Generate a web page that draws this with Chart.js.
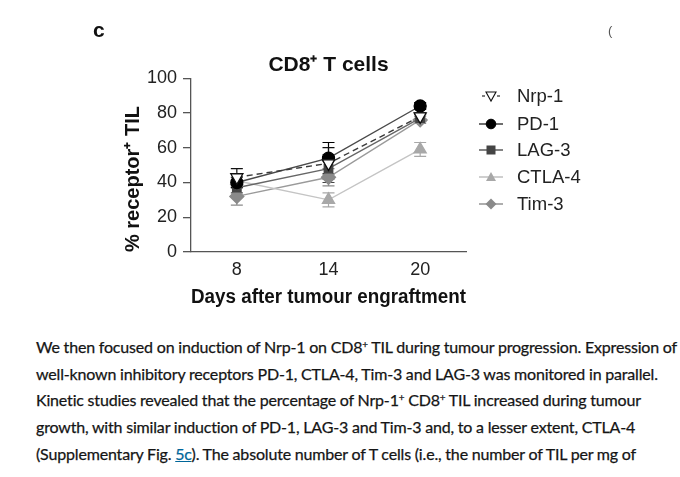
<!DOCTYPE html>
<html>
<head>
<meta charset="utf-8">
<script src="https://cdn.jsdelivr.net/npm/chart.js@4.4.1/dist/chart.umd.min.js"></script>
<style>
  html, body { margin: 0; padding: 0; background: #fff; }
  #page { position: relative; width: 680px; height: 477px; overflow: hidden; font-family: "Liberation Sans", Arial, sans-serif; }
  #chartBox { position: absolute; left: 0; top: 0; width: 680px; height: 310px; }
  .panel { position: absolute; left: 93px; top: 18px; font: bold 21px "Liberation Sans", Arial, sans-serif; color: #111; }
  .edge { position: absolute; left: 608px; top: 23px; font: 13px "Liberation Sans", Arial, sans-serif; color: #555; }
  #legend { position: absolute; left: 478px; top: 84px; }
  .lg { position: absolute; left: 0; height: 24px; white-space: nowrap; }
  .lg svg { position: absolute; left: 0; top: 2px; }
  .lg span { position: absolute; left: 39px; top: 0; font: 18.5px "Liberation Sans", Arial, sans-serif; color: #222; line-height: 24px; }
  #text { position: absolute; left: 36px; top: 334px; font: 16px Lato, "Open Sans", sans-serif; color: #151515; line-height: 26.7px; letter-spacing: -0.17px; word-spacing: -0.1px; white-space: nowrap; -webkit-text-stroke: 0.25px #151515; }
  #text a { color: #069; text-decoration: underline; -webkit-text-stroke: 0.25px #069; }
  sup { font-size: 62%; line-height: 0; vertical-align: 0.55em; }
</style>
</head>
<body>
<div id="page">
  <div id="chartBox"><canvas id="receptorChart"></canvas></div>
  <div class="panel">c</div>
  <div class="edge">(</div>
  <div id="legend"></div>
  <div id="text">
    We then focused on induction of Nrp-1 on CD8<sup>+</sup> TIL during tumour progression. Expression of<br>
    well-known inhibitory receptors PD-1, CTLA-4, Tim-3 and LAG-3 was monitored in parallel.<br>
    Kinetic studies revealed that the percentage of Nrp-1<sup>+</sup> CD8<sup>+</sup> TIL increased during tumour<br>
    growth, with similar induction of PD-1, LAG-3 and Tim-3 and, to a lesser extent, CTLA-4<br>
    (Supplementary Fig. <a href="#">5c</a>). The absolute number of T cells (i.e., the number of TIL per mg of
  </div>
</div>
<script>
/* ============================================================
   CD8+ TIL receptor kinetics
   ============================================================ */

const days = [8, 14, 20];
const yTicks = [0, 20, 40, 60, 80, 100];

const seriesNames = ['Nrp-1', 'PD-1', 'LAG-3', 'CTLA-4', 'Tim-3'];

const nrp1 = [43, 51, 78];
const pd1 = [40, 54, 84];
const lag3 = [37, 48, 77];
const ctla4 = [41, 30, 59];
const tim3 = [32, 43, 76];

const nrp1Err = [5, 9, 2];
const pd1Err = [3, 9, 2];
const lag3Err = [3, 8, 2];
const ctla4Err = [4, 4, 4];
const tim3Err = [5, 5, 2];

const seriesValues = [nrp1, pd1, lag3, ctla4, tim3];
const seriesErrors = [nrp1Err, pd1Err, lag3Err, ctla4Err, tim3Err];

// look of each series: line, marker, fill
const looks = [
  { line: '#3a3a3a', dash: [6, 4], marker: 'triangle', rot: 180, fill: '#ffffff', edge: '#111', r: 7 },
  { line: '#4a4a4a', dash: [], marker: 'circle', rot: 0, fill: '#000000', edge: '#000', r: 6 },
  { line: '#666666', dash: [], marker: 'rect', rot: 0, fill: '#444444', edge: '#444', r: 6 },
  { line: '#c4c4c4', dash: [], marker: 'triangle', rot: 0, fill: '#a8a8a8', edge: '#a8a8a8', r: 7 },
  { line: '#9a9a9a', dash: [], marker: 'rectRot', rot: 0, fill: '#8a8a8a', edge: '#8a8a8a', r: 7 }
];

const datasets = seriesNames.map((name, i) => ({
  label: name,
  data: days.map((d, j) => ({ x: d, y: seriesValues[i][j] })),
  errors: seriesErrors[i],
  borderColor: looks[i].line,
  borderWidth: 1.4,
  borderDash: looks[i].dash,
  pointStyle: looks[i].marker,
  rotation: looks[i].rot,
  pointRadius: looks[i].r,
  pointBackgroundColor: looks[i].fill,
  pointBorderColor: looks[i].edge,
  pointBorderWidth: 1.3,
  tension: 0,
  fill: false
}));

const errorBars = {
  id: 'errorBars',
  beforeDatasetsDraw(chart) {
    const { ctx, scales: { x, y } } = chart;
    for (let i = chart.data.datasets.length - 1; i >= 0; i--) {
      const ds = chart.data.datasets[i];
      ctx.save();
      ctx.strokeStyle = ds.pointBorderColor === '#ffffff' ? '#333' : ds.pointBorderColor;
      ctx.lineWidth = 1.2;
      ctx.setLineDash([]);
      ds.data.forEach((p, j) => {
        const e = ds.errors[j];
        const px = x.getPixelForValue(p.x);
        const top = y.getPixelForValue(p.y + e);
        const bot = y.getPixelForValue(p.y - e);
        ctx.beginPath();
        ctx.moveTo(px, top); ctx.lineTo(px, bot);
        ctx.moveTo(px - 6, top); ctx.lineTo(px + 6, top);
        ctx.moveTo(px - 6, bot); ctx.lineTo(px + 6, bot);
        ctx.stroke();
      });
      ctx.restore();
    }
  }
};

new Chart(document.getElementById('receptorChart').getContext('2d'), {
  type: 'line',
  data: { datasets },
  plugins: [errorBars],
  options: {
    responsive: true,
    maintainAspectRatio: false,
    animation: false,
    layout: { padding: { left: 110, right: 214, top: 0, bottom: 0 } },
    plugins: {
      legend: { display: false },
      tooltip: { enabled: false },
      title: {
        display: true,
        fullSize: false,
        text: 'CD8⁺ T cells',
        color: '#111',
        font: { family: '"Liberation Sans", Arial, sans-serif', size: 21, weight: 'bold', lineHeight: 1.2 },
        padding: { top: 53, bottom: 0 }
      }
    },
    scales: {
      x: {
        type: 'linear',
        min: 5,
        max: 23,
        afterBuildTicks: s => { s.ticks = days.map(v => ({ value: v })); },
        afterFit: s => { s.height = 58; },
        grid: { display: false, drawTicks: false },
        border: { display: true, color: '#555', width: 1.3 },
        ticks: { color: '#222', padding: 7, font: { family: '"Liberation Sans", Arial, sans-serif', size: 18 } },
        title: {
          display: true,
          text: 'Days after tumour engraftment',
          color: '#111',
          font: { family: '"Liberation Sans", Arial, sans-serif', size: 20, weight: 'bold', lineHeight: 1.2 },
          padding: { top: 0, bottom: 1 }
        }
      },
      y: {
        min: 0,
        max: 100,
        afterBuildTicks: s => { s.ticks = yTicks.map(v => ({ value: v })); },
        afterFit: s => { s.width = 81; },
        grid: { display: true, drawOnChartArea: false, drawTicks: true, tickLength: 8, color: '#555', lineWidth: 1.3 },
        border: { display: true, color: '#555', width: 1.3 },
        ticks: { color: '#222', padding: 6, font: { family: '"Liberation Sans", Arial, sans-serif', size: 18 } },
        title: {
          display: true,
          align: 'start',
          text: '% receptor⁺ TIL',
          color: '#111',
          font: { family: '"Liberation Sans", Arial, sans-serif', size: 20, weight: 'bold', lineHeight: 1.2 },
          padding: { top: 11, bottom: 0 }
        }
      }
    }
  }
});

// legend: line + marker icon and name for each series
function legendIcon(look) {
  const cx = 13, cy = 10;
  let mark = '';
  if (look.marker === 'circle') mark = `<circle cx="${cx}" cy="${cy}" r="4.8" fill="${look.fill}" stroke="${look.edge}"/>`;
  else if (look.marker === 'rect') mark = `<rect x="${cx - 4.5}" y="${cy - 4.5}" width="9" height="9" fill="${look.fill}"/>`;
  else if (look.marker === 'rectRot') mark = `<polygon points="${cx},${cy - 5.5} ${cx + 5.5},${cy} ${cx},${cy + 5.5} ${cx - 5.5},${cy}" fill="${look.fill}"/>`;
  else if (look.rot === 180) mark = `<polygon points="${cx - 5},${cy - 4} ${cx + 5},${cy - 4} ${cx},${cy + 5}" fill="#fff" stroke="${look.edge}" stroke-width="1.1"/>`;
  else mark = `<polygon points="${cx - 5},${cy + 4} ${cx + 5},${cy + 4} ${cx},${cy - 5}" fill="${look.fill}"/>`;
  const line = look.dash.length
    ? `<line x1="4" y1="${cy}" x2="7" y2="${cy}" stroke="${look.line}" stroke-width="1.3"/><line x1="19" y1="${cy}" x2="22" y2="${cy}" stroke="${look.line}" stroke-width="1.3"/>`
    : `<line x1="1" y1="${cy}" x2="25" y2="${cy}" stroke="${look.line}" stroke-width="1.6"/>`;
  return `<svg width="27" height="20">${line}${mark}</svg>`;
}

const legendRows = [0, 28, 54, 81, 108];
document.getElementById('legend').innerHTML = seriesNames.map((name, i) =>
  `<div class="lg" style="top:${legendRows[i]}px">${legendIcon(looks[i])}<span>${name}</span></div>`
).join('');
</script>
</body>
</html>
